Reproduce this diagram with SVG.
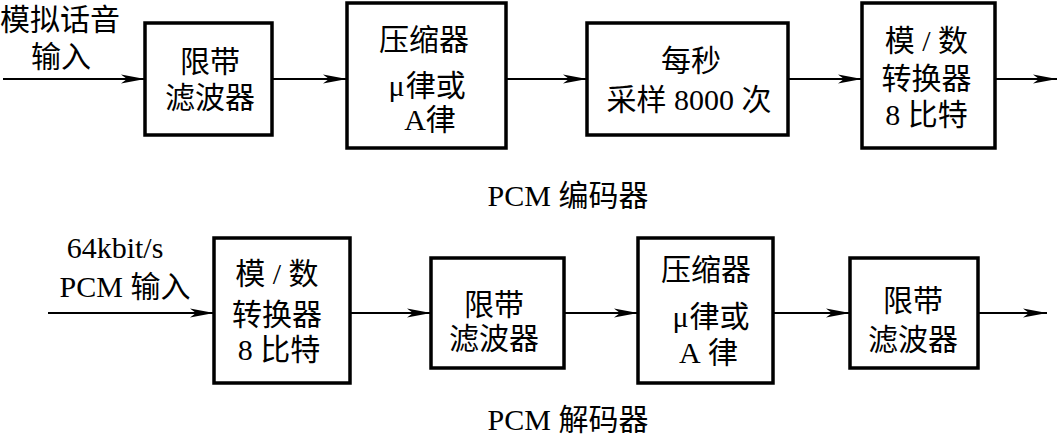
<svg xmlns="http://www.w3.org/2000/svg" width="1062" height="439" viewBox="0 0 1062 439">
<defs>
<style>
.box{fill:#fff;stroke:#000;stroke-width:3.5}
.ln{fill:none;stroke:#000;stroke-width:2.2}
text{font-size:30px;fill:#000}
.c{font-family:"Noto Sans CJK SC",sans-serif;text-anchor:middle}
.cs{font-family:"Noto Sans CJK SC",sans-serif;text-anchor:start}
.l{font-family:"Liberation Serif",serif;text-anchor:start}
.lm{font-family:"Liberation Serif",serif;text-anchor:middle}
</style>
<marker id="ah" markerUnits="userSpaceOnUse" markerWidth="26" markerHeight="12" refX="24" refY="6" orient="auto">
<path d="M0,1.5 L24,6 L0,10.5 L6,6 Z" fill="#000"/>
</marker>
</defs>
<rect width="1062" height="439" fill="#fff"/>
<g id="connectors">
<line class="ln" x1="3" y1="79" x2="145" y2="79" marker-end="url(#ah)"/>
<line class="ln" x1="272" y1="79" x2="347" y2="79" marker-end="url(#ah)"/>
<line class="ln" x1="506" y1="79" x2="587" y2="79" marker-end="url(#ah)"/>
<line class="ln" x1="788" y1="79" x2="862" y2="79" marker-end="url(#ah)"/>
<line class="ln" x1="995" y1="79" x2="1057" y2="79" marker-end="url(#ah)"/>
<line class="ln" x1="48" y1="313" x2="214" y2="313" marker-end="url(#ah)"/>
<line class="ln" x1="350" y1="313" x2="431" y2="313" marker-end="url(#ah)"/>
<line class="ln" x1="564" y1="313" x2="638" y2="313" marker-end="url(#ah)"/>
<line class="ln" x1="773" y1="313" x2="850" y2="313" marker-end="url(#ah)"/>
<line class="ln" x1="978" y1="313" x2="1047" y2="313" marker-end="url(#ah)"/>
</g>
<g id="input-label-top">
<text class="c" x="60" y="30">模拟话音</text>
<text class="c" x="61" y="67">输入</text>
</g>
<g id="enc-filter">
<rect class="box" x="145" y="23" width="127" height="112"/>
<text class="c" x="210" y="72">限带</text>
<text class="c" x="210" y="108">滤波器</text>
</g>
<g id="enc-compressor">
<rect class="box" x="347" y="3" width="159" height="145"/>
<text class="c" x="424" y="50">压缩器</text>
<text class="l" x="388.4" y="96">μ</text><text class="cs" x="405.7" y="96">律或</text>
<text class="l" x="404.2" y="130">A</text><text class="cs" x="425.8" y="130">律</text>
</g>
<g id="enc-sampler">
<rect class="box" x="587" y="23" width="201" height="112"/>
<text class="c" x="691" y="71">每秒</text>
<text class="cs" x="606.5" y="110">采样</text><text class="l" x="674" y="110">8000</text><text class="cs" x="741.5" y="110">次</text>
</g>
<g id="enc-adc">
<rect class="box" x="862" y="3" width="133" height="145"/>
<text class="cs" x="884.8" y="51">模</text><text class="l" x="922.3" y="51">/</text><text class="cs" x="938.1" y="51">数</text>
<text class="c" x="926.5" y="89">转换器</text>
<text class="l" x="885.3" y="125">8</text><text class="cs" x="907.8" y="125">比特</text>
</g>
<g id="enc-title">
<text class="l" x="487.6" y="206">PCM</text><text class="cs" x="558.4" y="206">编码器</text>
</g>
<g id="input-label-bottom">
<text class="lm" x="115" y="258">64kbit/s</text>
<text class="l" x="59.6" y="297">PCM</text><text class="cs" x="130.5" y="297">输入</text>
</g>
<g id="dec-adc">
<rect class="box" x="214" y="238" width="136" height="145"/>
<text class="cs" x="235.3" y="284">模</text><text class="l" x="272.8" y="284">/</text><text class="cs" x="288.6" y="284">数</text>
<text class="c" x="277" y="325">转换器</text>
<text class="l" x="237.8" y="360">8</text><text class="cs" x="260.3" y="360">比特</text>
</g>
<g id="dec-filter1">
<rect class="box" x="431" y="258" width="133" height="110"/>
<text class="c" x="494" y="315">限带</text>
<text class="c" x="494" y="349">滤波器</text>
</g>
<g id="dec-compressor">
<rect class="box" x="638" y="238" width="135" height="145"/>
<text class="c" x="706" y="280">压缩器</text>
<text class="l" x="672.4" y="327">μ</text><text class="cs" x="689.6" y="327">律或</text>
<text class="l" x="678.9" y="363">A</text><text class="cs" x="708.1" y="363">律</text>
</g>
<g id="dec-filter2">
<rect class="box" x="850" y="258" width="128" height="110"/>
<text class="c" x="913" y="311">限带</text>
<text class="c" x="913" y="350">滤波器</text>
</g>
<g id="dec-title">
<text class="l" x="487.6" y="430">PCM</text><text class="cs" x="558.4" y="430">解码器</text>
</g>
</svg>
